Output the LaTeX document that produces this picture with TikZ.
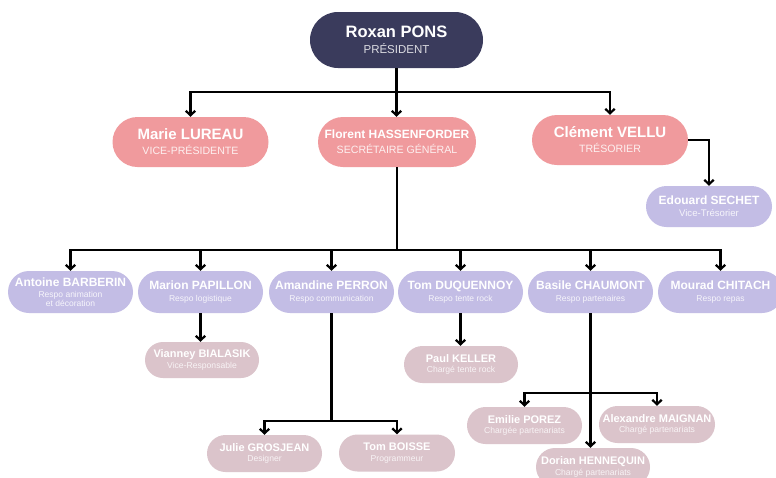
\documentclass[tikz,border=0pt]{standalone}
\usepackage{fontspec}
\setmainfont{Liberation Sans}
\usepackage{xcolor}
\usetikzlibrary{arrows.meta,shapes.misc}
\definecolor{navy}{RGB}{58,59,92}
\definecolor{rose}{RGB}{240,154,157}
\definecolor{lilac}{RGB}{195,189,229}
\definecolor{mauve}{RGB}{219,196,203}
\newcommand{\rl}[1]{{\fontsize{\rlsize}{\rlsize}\selectfont\mdseries\color{rlcol}#1}}
\tikzset{pill/.style={rounded rectangle,text=white,align=center,inner sep=0pt}}
\tikzset{chief/.style={pill,fill=navy,minimum width=173pt,minimum height=56pt,
    font=\fontsize{16.5}{16}\selectfont\bfseries,
    execute at begin node={\def\rlsize{11.5}\colorlet{rlcol}{white!82!navy}}}}
\tikzset{board/.style={pill,fill=rose,minimum width=156pt,minimum height=50pt,
    font=\fontsize{15}{15}\selectfont\bfseries,
    execute at begin node={\def\rlsize{10.6}\colorlet{rlcol}{white!85!rose}}}}
\tikzset{lead/.style={pill,fill=lilac,minimum width=125pt,minimum height=42pt,
    font=\fontsize{12}{12}\selectfont\bfseries,
    execute at begin node={\def\rlsize{8.5}\colorlet{rlcol}{white!85!lilac}}}}
\tikzset{aide/.style={pill,fill=mauve,minimum width=115pt,minimum height=37pt,
    font=\fontsize{11}{10.5}\selectfont\bfseries,
    execute at begin node={\def\rlsize{8.6}\colorlet{rlcol}{white!80!mauve}}}}
\tikzset{bus/.style={line width=2.2pt}}
\tikzset{link/.style={line width=2.2pt,-{Straight Barb[length=4.5pt,width=9.5pt]}}}

\begin{document}
\begin{tikzpicture}[x=1pt,y=-1pt]
    \useasboundingbox[fill=white] (0,0) rectangle (776,477);

    \node [chief] (roxan) at (396.5,40) {Roxan PONS\\\rl{PRÉSIDENT}};

    \node [board] (marie) at (190.5,142) {Marie LUREAU\\\rl{VICE-PRÉSIDENTE}};
    \node [board,minimum width=158pt,font=\fontsize{12}{15}\selectfont\bfseries] (florent) at (397,142) {Florent HASSENFORDER\\\rl{SECRÉTAIRE GÉNÉRAL}};
    \node [board] (clement) at (610,140) {Clément VELLU\\\rl{TRÉSORIER}};
    \node [lead,minimum width=126pt,minimum height=41pt,execute at begin node={\def\rlsize{9.6}}] (edouard) at (709,206.5) {Edouard SECHET\\\rl{Vice-Trésorier}};

    \node [lead,font=\fontsize{12}{9}\selectfont\bfseries] (antoine) at (70.5,292) {Antoine BARBERIN\\[1.5pt]\rl{Respo animation}\\\rl{et décoration}};
    \node [lead] (marion) at (200.5,292) {Marion PAPILLON\\\rl{Respo logistique}};
    \node [lead] (amandine) at (331.5,292) {Amandine PERRON\\\rl{Respo communication}};
    \node [lead] (tomd) at (460.5,292) {Tom DUQUENNOY\\\rl{Respo tente rock}};
    \node [lead] (basile) at (590.5,292) {Basile CHAUMONT\\\rl{Respo partenaires}};
    \node [lead] (mourad) at (720.5,292) {Mourad CHITACH\\\rl{Respo repas}};

    \node [aide,minimum width=114pt,minimum height=36pt] (vianney) at (202,360) {Vianney BIALASIK\\\rl{Vice-Responsable}};
    \node [aide,minimum width=114pt] (paul) at (461,364.5) {Paul KELLER\\\rl{Chargé tente rock}};
    \node [aide] (julie) at (264.5,453.5) {Julie GROSJEAN\\\rl{Designer}};
    \node [aide,minimum width=116pt] (tomb) at (397,453) {Tom BOISSE\\\rl{Programmeur}};
    \node [aide] (emilie) at (524.5,425.5) {Emilie POREZ\\\rl{Chargée partenariats}};
    \node [aide,minimum width=116pt] (alexandre) at (657,424.5) {Alexandre MAIGNAN\\\rl{Chargé partenariats}};
    \node [aide,minimum width=114pt,minimum height=38pt] (dorian) at (593,467) {Dorian HENNEQUIN\\\rl{Chargé partenariats}};

    \coordinate (busA) at (0,92);
    \coordinate (busB) at (0,250);
    \coordinate (busC) at (0,421);
    \coordinate (busD) at (0,393);

    \draw [link] (roxan.south) -- (roxan.south |- florent.north);
    \draw [link] (roxan.south |- busA) -| (marie.north);
    \draw [link] (roxan.south |- busA) -| (clement.north);
    \draw [link] (clement.east) -| (edouard.north);

    \draw [bus] (florent.south) -- (florent.south |- busB);
    \draw [link] (florent.south |- busB) -| (antoine.north);
    \draw [link] (florent.south |- busB) -| (marion.north);
    \draw [link] (florent.south |- busB) -| (amandine.north);
    \draw [link] (florent.south |- busB) -| (tomd.north);
    \draw [link] (florent.south |- busB) -| (basile.north);
    \draw [link] (florent.south |- busB) -| (mourad.north);

    \draw [link] (marion.south) -- (marion.south |- vianney.north);
    \draw [link] (tomd.south) -- (tomd.south |- paul.north);

    \draw [bus] (amandine.south) -- (amandine.south |- busC);
    \draw [link] (amandine.south |- busC) -| (julie.north);
    \draw [link] (amandine.south |- busC) -| (tomb.north);

    \draw [link] (basile.south) -- (basile.south |- dorian.north);
    \draw [link] (basile.south |- busD) -| (emilie.north);
    \draw [link] (basile.south |- busD) -| (alexandre.north);
  \end{tikzpicture}
\end{document}
